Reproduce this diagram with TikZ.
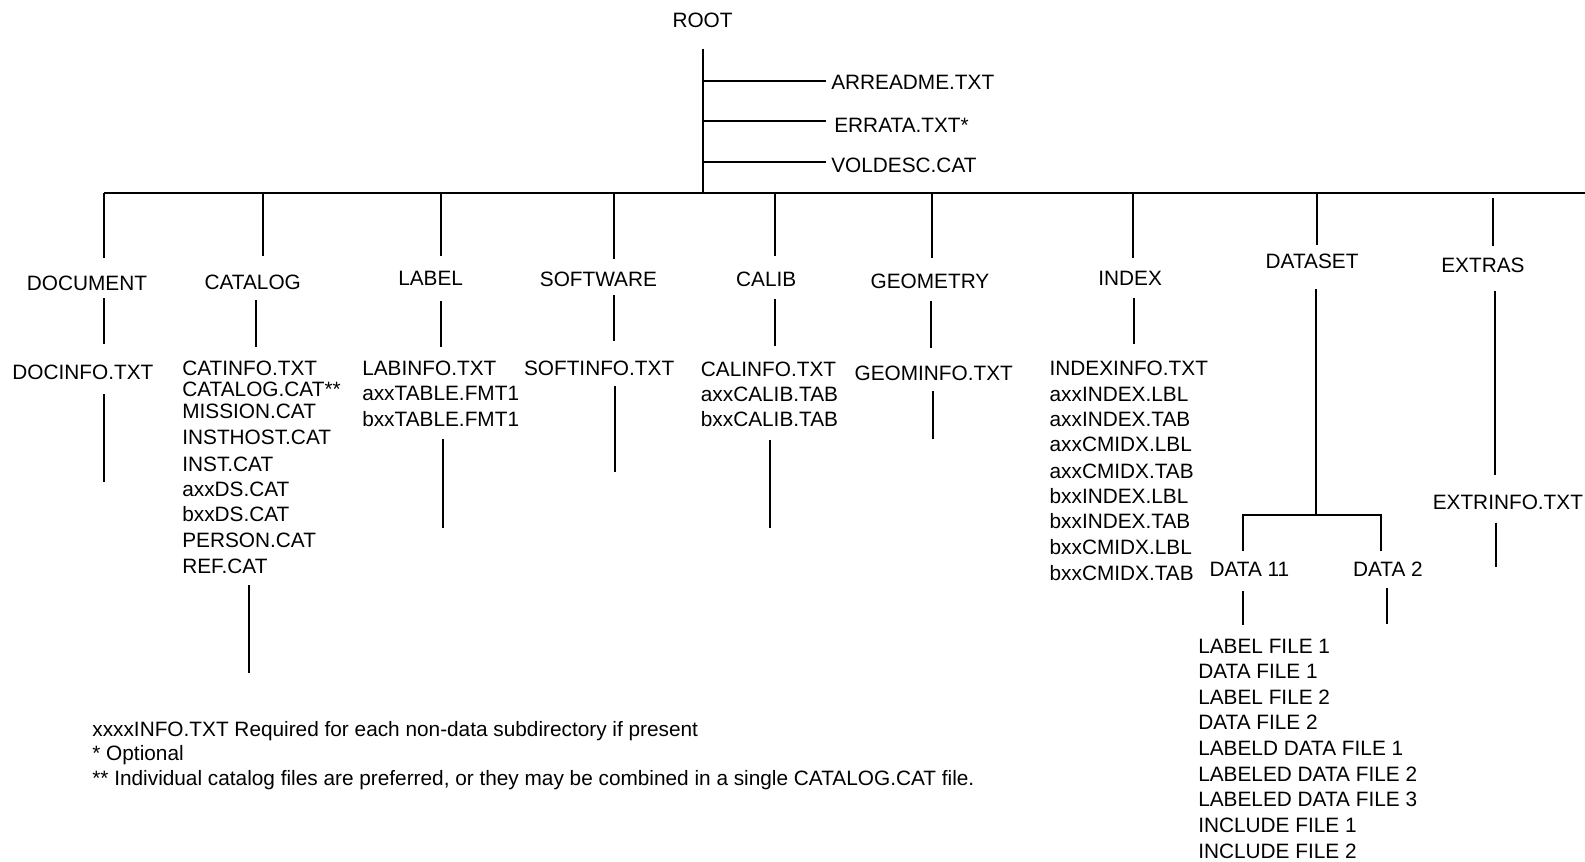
\documentclass[tikz,border=0pt]{standalone}
\usepackage{fontspec}
\setmainfont{Liberation Sans}
\begin{document}
\begin{tikzpicture}[x=0.5055pt,y=-0.5055pt,
  every node/.style={inner sep=0pt,font=\fontsize{10.4pt}{12.5pt}\selectfont},
  ln/.style={line width=1pt},
  lbl/.style={anchor=base},
  itm/.style={anchor=base west}]
\useasboundingbox (0,0) rectangle (1568,852);
% root
\node[lbl] (root) at (695,27) {ROOT};
\node[itm] (arr) at (822,89) {ARREADME.TXT};
\node[itm] (err) at (825,131) {ERRATA.TXT*};
\node[itm] (vol) at (822,171) {VOLDESC.CAT};
\coordinate (rt) at (695,48);
\coordinate (rb) at (695,191);
\coordinate (busL) at (103,191);
\coordinate (busR) at (1568,191);
\draw[ln] (rt) -- (rb);
\draw[ln] (695,80) -- (817,80);
\draw[ln] (695,120) -- (817,120);
\draw[ln] (695,160) -- (817,160);
\draw[line width=1.2pt] (busL) -- (busR);
% directory labels
\node[lbl] (doc) at (86,287) {DOCUMENT};
\node[lbl] (cat) at (250,286) {CATALOG};
\node[lbl] (lab) at (426,282) {LABEL};
\node[lbl] (sw) at (592,283) {SOFTWARE};
\node[lbl] (cal) at (758,283) {CALIB};
\node[lbl] (geo) at (920,285) {GEOMETRY};
\node[lbl] (idx) at (1118,282) {INDEX};
\node[lbl] (ds) at (1298,266) {DATASET};
\node[lbl] (ext) at (1467,270) {EXTRAS};
% drops from bus
\draw[ln] (103,191) -- (103,255);
\draw[ln] (260,191) -- (260,253);
\draw[ln] (436,191) -- (436,253);
\draw[ln] (607,191) -- (607,256);
\draw[ln] (767,191) -- (767,253);
\draw[ln] (922,191) -- (922,255);
\draw[ln] (1121,191) -- (1121,255);
\draw[ln] (1303,191) -- (1303,242);
\draw[ln] (1477,196) -- (1477,243);
% drops from labels
\draw[ln] (103,295) -- (103,340);
\draw[ln] (253,297) -- (253,343);
\draw[ln] (436,298) -- (436,343);
\draw[ln] (607,292) -- (607,337);
\draw[ln] (767,296) -- (767,342);
\draw[ln] (921,298) -- (921,344);
\draw[ln] (1122,295) -- (1122,340);
\draw[ln] (1479,288) -- (1479,470);
% DOCUMENT
\node[lbl] (docinfo) at (82,375) {DOCINFO.TXT};
\draw[ln] (103,390) -- (103,477);
% CATALOG
\foreach \t/\y [count=\i] in {CATINFO.TXT/364,CATALOG.CAT**/385,MISSION.CAT/407,INSTHOST.CAT/433,INST.CAT/459,axxDS.CAT/484,bxxDS.CAT/509,PERSON.CAT/535,REF.CAT/560}
  \node[itm] (cat\i) at (180,\y+7) {\t};
\draw[ln] (246,579) -- (246,666);
% LABEL
\foreach \t/\y [count=\i] in {LABINFO.TXT/364,axxTABLE.FMT1/389,bxxTABLE.FMT1/415}
  \node[itm] (lab\i) at (358,\y+7) {\t};
\draw[ln] (438,434) -- (438,522);
% SOFTWARE
\node[itm] (softinfo) at (518,371) {SOFTINFO.TXT};
\draw[ln] (608,382) -- (608,467);
% CALIB
\foreach \t/\y [count=\i] in {CALINFO.TXT/365,axxCALIB.TAB/390,bxxCALIB.TAB/415}
  \node[itm] (cal\i) at (693,\y+7) {\t};
\draw[ln] (762,435) -- (762,522);
% GEOMETRY
\node[itm] (geominfo) at (845,376) {GEOMINFO.TXT};
\draw[ln] (923,387) -- (923,434);
% INDEX
\foreach \t/\y [count=\i] in {INDEXINFO.TXT/364,axxINDEX.LBL/390,axxINDEX.TAB/415,axxCMIDX.LBL/440,axxCMIDX.TAB/466,bxxINDEX.LBL/491,bxxINDEX.TAB/516,bxxCMIDX.LBL/542,bxxCMIDX.TAB/567}
  \node[itm] (idx\i) at (1038,\y+7) {\t};
% DATASET
\draw[ln] (1302,286) -- (1302,509);
\draw[ln] (1230,545) -- (1230,509) -- (1366,509) -- (1366,545);
\node[lbl] (d11) at (1236,570) {DATA 11};
\node[lbl] (d2) at (1373,570) {DATA 2};
\draw[ln] (1230,585) -- (1230,618);
\draw[ln] (1372,582) -- (1372,617);
\foreach \t/\y [count=\i] in {LABEL FILE 1/639,DATA FILE 1/664,LABEL FILE 2/690,DATA FILE 2/715,LABELD DATA FILE 1/740,LABELED DATA FILE 2/766,LABELED DATA FILE 3/791,INCLUDE FILE 1/817,INCLUDE FILE 2/842}
  \node[itm] (df\i) at (1185,\y+7) {\t};
% EXTRAS
\node[itm] (extinfo) at (1417,504) {EXTRINFO.TXT};
\draw[ln] (1480,517) -- (1480,561);
% notes
\node[itm] (n1) at (91,729) {xxxxINFO.TXT Required for each non-data subdirectory if present};
\node[itm] (n2) at (91,752) {* Optional};
\node[itm] (n3) at (91,777) {** Individual catalog files are preferred, or they may be combined in a single CATALOG.CAT file.};
\end{tikzpicture}
\end{document}
